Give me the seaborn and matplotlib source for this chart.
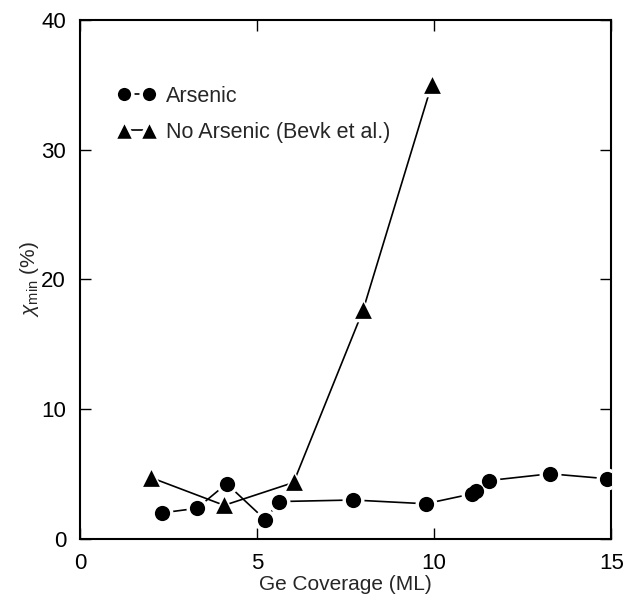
import matplotlib
matplotlib.use("Agg")
import matplotlib.pyplot as plt
import seaborn as sns
import pandas as pd
from matplotlib.lines import Line2D

# Data
as_x = [2.32, 3.30, 4.14, 5.23, 5.62, 7.71, 9.76, 11.06, 11.18, 11.54, 13.27, 14.88]
as_y = [2.0, 2.35, 4.25, 1.47, 2.87, 2.99, 2.70, 3.46, 3.69, 4.49, 5.01, 4.63]
noas_x = [2.0, 4.07, 6.03, 7.99, 9.93]
noas_y = [4.72, 2.58, 4.34, 17.6, 35.0]
x_ticks = [0, 5, 10, 15]
y_ticks = [0, 10, 20, 30, 40]
label_as = "Arsenic"
label_noas = "No Arsenic (Bevk et al.)"

sns.set_style("ticks")
plt.rcParams['font.family'] = ['Liberation Sans', 'DejaVu Sans']
plt.rcParams['mathtext.fontset'] = 'custom'
plt.rcParams['mathtext.rm'] = 'Liberation Sans'
plt.rcParams['mathtext.it'] = 'Liberation Sans:italic'

fig = plt.figure(figsize=(6.25, 6.0), dpi=100)
ax = fig.add_axes([0.128, 0.102, 0.85, 0.865])

df_as = pd.DataFrame({"x": as_x, "y": as_y})
df_no = pd.DataFrame({"x": noas_x, "y": noas_y})

# lines
sns.lineplot(data=df_no, x="x", y="y", sort=False, ax=ax, color="black", linewidth=1.2)
sns.lineplot(data=df_as, x="x", y="y", sort=False, ax=ax, color="black", linewidth=1.2)
# white halos to create gaps around markers
sns.scatterplot(data=df_no, x="x", y="y", ax=ax, marker="^", s=290, color="white",
                edgecolor="white", linewidth=0, zorder=3)
sns.scatterplot(data=df_as, x="x", y="y", ax=ax, marker="o", s=250, color="white",
                edgecolor="white", linewidth=0, zorder=3)
# black markers
sns.scatterplot(data=df_no, x="x", y="y", ax=ax, marker="^", s=145, color="black",
                edgecolor="black", linewidth=0, zorder=4)
sns.scatterplot(data=df_as, x="x", y="y", ax=ax, marker="o", s=120, color="black",
                edgecolor="black", linewidth=0, zorder=4)

ax.set_xlim(0, 15)
ax.set_ylim(0, 40)
ax.set_xticks(x_ticks)
ax.set_yticks(y_ticks)
ax.tick_params(direction="in", length=8, width=1, top=True, right=True,
               labelsize=16, colors="black", pad=10)
for s in ax.spines.values():
    s.set_linewidth(1.5)
    s.set_color("black")
ax.set_xlabel("Ge Coverage (ML)", fontsize=15, labelpad=1)
ax.set_ylabel(r"$\chi_{\mathrm{min}}$ (%)", fontsize=15, labelpad=0)

handles = [
    Line2D([], [], color="black", marker="o", markersize=12, markeredgecolor="white",
           markeredgewidth=2.5, linestyle="-", linewidth=1.2),
    Line2D([], [], color="black", marker="^", markersize=14, markeredgecolor="white",
           markeredgewidth=2.5, linestyle="-", linewidth=1.2),
]
ax.legend(handles, [label_as, label_noas], loc="upper left",
          bbox_to_anchor=(0.035, 0.91), frameon=False, numpoints=2,
          handlelength=1.75, handletextpad=0.5, labelspacing=0.7, fontsize=15.5)

fig.savefig("out.png", dpi=100)
